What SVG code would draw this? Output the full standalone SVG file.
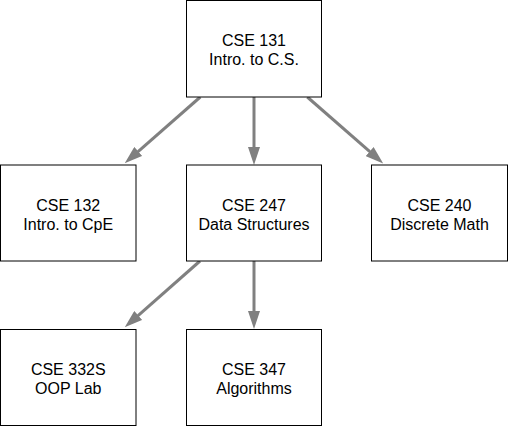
<svg xmlns="http://www.w3.org/2000/svg" width="508" height="427" viewBox="0 0 508 427">
<style>
.box{fill:#ffffff;stroke:#000000;stroke-width:1}
.lbl{font-family:"Liberation Sans",Arial,sans-serif;font-size:16px;fill:#000000;text-anchor:middle}
.edge{stroke:#808080;stroke-width:3;fill:none}
</style>
<defs>
<marker id="arr" markerUnits="userSpaceOnUse" markerWidth="18" markerHeight="12" refX="1" refY="6" orient="auto" viewBox="0 0 18 12">
<path d="M0,0 L18,6 L0,12 Z" fill="#808080"/>
</marker>
</defs>
<rect width="508" height="427" fill="#ffffff"/>
<g id="connectors">
<line class="edge" x1="200.3" y1="97" x2="137.5" y2="152.1" marker-end="url(#arr)"/>
<line class="edge" x1="254" y1="97" x2="254" y2="148" marker-end="url(#arr)"/>
<line class="edge" x1="307.3" y1="97" x2="370.4" y2="152.2" marker-end="url(#arr)"/>
<line class="edge" x1="200" y1="261" x2="137.5" y2="316.1" marker-end="url(#arr)"/>
<line class="edge" x1="254" y1="261" x2="254" y2="312" marker-end="url(#arr)"/>
</g>
<g id="cse131">
<rect class="box" x="186.5" y="0.5" width="135" height="96.5"/>
<text class="lbl" x="254" y="46">CSE 131</text>
<text class="lbl" x="254" y="64.5">Intro. to C.S.</text>
</g>
<g id="cse132">
<rect class="box" x="0.5" y="165" width="135.5" height="96"/>
<text class="lbl" x="68.25" y="211">CSE 132</text>
<text class="lbl" x="68.25" y="229.5">Intro. to CpE</text>
</g>
<g id="cse247">
<rect class="box" x="186.5" y="165" width="135" height="96"/>
<text class="lbl" x="254" y="211">CSE 247</text>
<text class="lbl" x="254" y="229.5">Data Structures</text>
</g>
<g id="cse240">
<rect class="box" x="371.5" y="165" width="136" height="96"/>
<text class="lbl" x="439.5" y="211">CSE 240</text>
<text class="lbl" x="439.5" y="229.5">Discrete Math</text>
</g>
<g id="cse332s">
<rect class="box" x="0.5" y="329.5" width="135.5" height="96"/>
<text class="lbl" x="68.25" y="375">CSE 332S</text>
<text class="lbl" x="68.25" y="393.5">OOP Lab</text>
</g>
<g id="cse347">
<rect class="box" x="186.5" y="329.5" width="135" height="96"/>
<text class="lbl" x="254" y="375">CSE 347</text>
<text class="lbl" x="254" y="393.5">Algorithms</text>
</g>
</svg>
